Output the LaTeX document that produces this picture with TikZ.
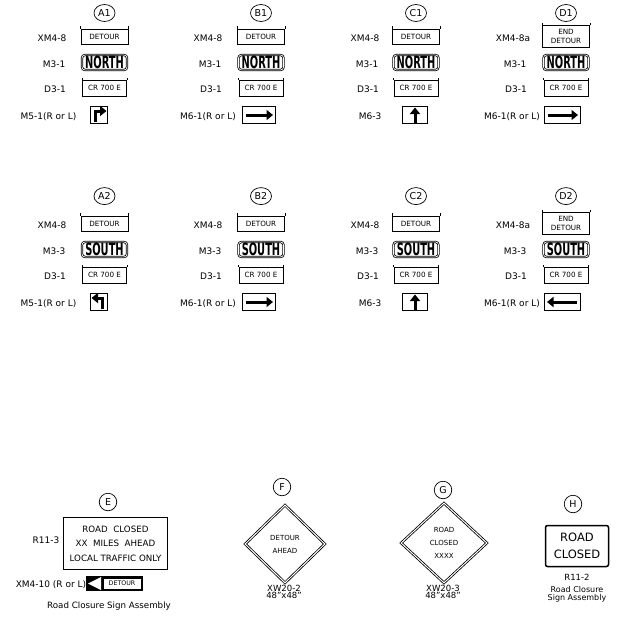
\documentclass[tikz,border=0pt]{standalone}
\usepackage{fontspec}
\setmainfont{DejaVu Sans}
\usetikzlibrary{arrows.meta,shapes.geometric}
\tikzset{
  lbl/.style={anchor=base, inner sep=0pt, font=\fontsize{9}{10}\selectfont},
  circ/.style={ellipse, draw, line width=0.7pt, minimum width=21pt, minimum height=17pt, inner sep=0pt, font=\fontsize{9.5}{10}\selectfont},
  circb/.style={circle, draw, line width=0.7pt, minimum size=17.5pt, inner sep=0pt, font=\fontsize{9.5}{10}\selectfont},
  xmsign/.style={draw, line width=0.7pt, minimum width=47pt, minimum height=15pt, inner xsep=1pt, inner ysep=3.5pt, align=center, font=\fontsize{7.2}{9.5}\selectfont},
  m3sign/.style={draw, double, double distance=0.7pt, line width=0.8pt, rounded corners=3pt, minimum width=45pt, minimum height=15pt, inner sep=0pt, font=\fontsize{17}{17}\selectfont},
  d3sign/.style={draw, line width=0.7pt, minimum width=44pt, minimum height=16pt, inner sep=0pt, font=\fontsize{7.2}{7}\selectfont},
  arrsign/.style={draw, line width=1.3pt, minimum height=17pt, inner sep=0pt},
  arr/.style={line width=3pt, -{Triangle[length=6.5pt,width=10pt]}, line join=miter},
  tick/.style={line width=0.5pt},
  esign/.style={draw, line width=1.3pt, minimum width=104pt, minimum height=52pt, align=center, inner sep=0pt, font=\fontsize{8.7}{14.5}\selectfont},
  dia/.style={diamond, draw, double, double distance=1pt, line width=0.8pt, align=center, inner sep=0pt, font=\fontsize{7}{13}\selectfont},
  hsign/.style={draw, line width=1.5pt, rounded corners=2pt, minimum width=63pt, minimum height=41pt, align=center, inner sep=0pt, font=\fontsize{11.5}{17}\selectfont},
  captxt/.style={align=center, inner sep=0pt, font=\fontsize{8.5}{7.5}\selectfont},
}
% #1 prefix, #2 sign x, #3 label x, #4 dy, #5 circle text, #6 xm label, #7 xm sign text, #8 m3 label, #9 word
\newcommand\signcol[9]{%
  \node[circ] (#1c) at ({#2},{13+0.979*#4}) {#5};
  \node[xmsign] (#1x) at ({#2},{36.5+#4}) {#7};
  \draw[tick] (#1x.north west) -- ++(0,-2.5);
  \draw[tick] (#1x.north east) -- ++(0,-2.5);
  \node[lbl] (#1xl) at ({#3-2},{41+#4}) {#6};
  \node[m3sign] (#1m) at ({#2},{62.5+#4}) {\scalebox{0.58}[1]{\bfseries #9}};
  \node[lbl] (#1ml) at ({#3},{67+#4}) {#8};
  \node[d3sign] (#1d) at ({#2},{88+#4}) {CR 700 E};
  \draw[tick] (#1d.north west) -- ++(0,-2);
  \draw[tick] (#1d.north east) -- ++(0,-2);
  \node[lbl] (#1dl) at ({#3+1},{92.5+#4}) {D3-1};
}
\begin{document}
\begin{tikzpicture}[x=1pt,y=-1pt]
\fill[white] (0,0) rectangle (618,616);
\useasboundingbox (0,0) rectangle (618,616);

% ---------- row 1 ----------
\signcol{aa}{104.5}{54}{0}{A1}{XM4-8}{DETOUR}{M3-1}{NORTH}
\signcol{ba}{261}{210}{0}{B1}{XM4-8}{DETOUR}{M3-1}{NORTH}
\signcol{ca}{416}{367}{0}{C1}{XM4-8}{DETOUR}{M3-1}{NORTH}
\signcol{da}{566}{515}{0}{D1}{XM4-8a}{END\\DETOUR}{M3-1}{NORTH}

% ---------- row 2 ----------
\signcol{ab}{104.5}{54}{187}{A2}{XM4-8}{DETOUR}{M3-3}{SOUTH}
\signcol{bb}{261}{210}{187}{B2}{XM4-8}{DETOUR}{M3-3}{SOUTH}
\signcol{cb}{416}{367}{187}{C2}{XM4-8}{DETOUR}{M3-3}{SOUTH}
\signcol{db}{566}{515}{187}{D2}{XM4-8a}{END\\DETOUR}{M3-3}{SOUTH}

% ---------- arrow signs row 1 ----------
\node[arrsign, minimum width=17pt] (aas) at (99,115) {};
\draw[arr] (95.5,122) |- (106.5,111);
\node[lbl] (aasl) at (48.5,119.5) {M5-1(R or L)};
\node[arrsign, minimum width=33pt] (bas) at (259,115) {};
\draw[arr] (246,115) -- (273,115);
\node[lbl] (basl) at (208,119.5) {M6-1(R or L)};
\node[arrsign, minimum width=25pt] (cas) at (415,115) {};
\draw[arr] (415,122.5) -- (415,107.5);
\node[lbl] (casl) at (370,119.5) {M6-3};
\node[arrsign, minimum width=36pt] (das) at (562.5,115) {};
\draw[arr] (548,115) -- (578,115);
\node[lbl] (dasl) at (512,119.5) {M6-1(R or L)};

% ---------- arrow signs row 2 ----------
\node[arrsign, minimum width=17pt] (abs) at (99,302) {};
\draw[arr] (102.5,309) |- (91.5,298);
\node[lbl] (absl) at (48.5,306.5) {M5-1(R or L)};
\node[arrsign, minimum width=33pt] (bbs) at (259,302) {};
\draw[arr] (246,302) -- (273,302);
\node[lbl] (bbsl) at (208,306.5) {M6-1(R or L)};
\node[arrsign, minimum width=25pt] (cbs) at (415,302) {};
\draw[arr] (415,309.5) -- (415,294.5);
\node[lbl] (cbsl) at (370,306.5) {M6-3};
\node[arrsign, minimum width=36pt] (dbs) at (562.5,302) {};
\draw[arr] (577,302) -- (547,302);
\node[lbl] (dbsl) at (512,306.5) {M6-1(R or L)};

% ---------- E ----------
\node[circb] (ec) at (108,502) {E};
\node[esign] (e) at (115.5,543.5) {ROAD\ \ CLOSED\\XX\ \ MILES\ \ AHEAD\\LOCAL TRAFFIC ONLY};
\node[lbl] (el) at (46,543) {R11-3};
\node[fill=black, minimum width=57pt, minimum height=15pt, inner sep=0pt] (xm10) at (114.5,583.5) {};
\fill[white] (88,583.5) -- (101,577) -- (101,590) -- cycle;
\node[fill=white, minimum width=37pt, minimum height=10pt, inner sep=0pt, font=\fontsize{6.3}{6}\selectfont] (xm10t) at (122,583.5) {DETOUR};
\node[lbl] (xm10l) at (51,587.5) {XM4-10 (R or L)};
\node[lbl, font=\fontsize{8.7}{10}\selectfont] (ecap) at (109,608) {Road Closure Sign Assembly};

% ---------- F ----------
\node[circb] (fc) at (282,487) {F};
\node[dia, minimum width=80pt, minimum height=78pt] (f) at (285,544) {DETOUR\\AHEAD};
\node[captxt] (fl) at (284,592) {XW20-2\\48"x48"};

% ---------- G ----------
\node[circb] (gc) at (443,490) {G};
\node[dia, minimum width=86pt, minimum height=80pt] (g) at (444,543) {ROAD\\CLOSED\\XXXX};
\node[captxt] (gl) at (443,592) {XW20-3\\48"x48"};

% ---------- H ----------
\node[circb] (hc) at (573,504) {H};
\node[hsign] (h) at (577,546) {ROAD\\CLOSED};
\node[captxt] (hl) at (577,577) {R11-2};
\node[captxt, font=\fontsize{8}{8.5}\selectfont] (hcap) at (577,594.5) {Road Closure\\Sign Assembly};
\end{tikzpicture}
\end{document}
